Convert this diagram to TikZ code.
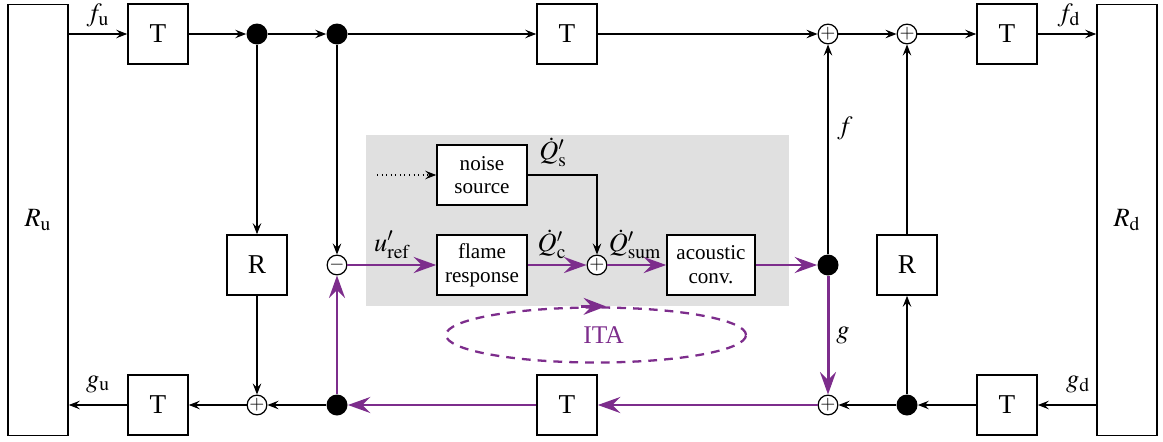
\documentclass[tikz,border=0pt]{standalone}
\usepackage{mathptmx}
\usepackage{fontspec}
\setmainfont{Liberation Serif}
\usetikzlibrary{arrows.meta,shapes.geometric}

\definecolor{itapurple}{RGB}{125,45,140}

\tikzset{
    block/.style={draw, line width=0.9pt, fill=white, minimum width=1.2cm,
        minimum height=1.2cm, inner sep=0pt, font=\fontsize{15.5}{17}\selectfont},
    wideblock/.style={block, minimum width=1.8cm, align=center,
        font=\fontsize{12}{13.5}\selectfont},
    tallblock/.style={block, minimum height=8.62cm, font=\fontsize{15}{17}\selectfont},
    sumnode/.style={draw, circle, line width=0.7pt, fill=white, minimum size=0.37cm,
        inner sep=0pt, font=\fontsize{11}{12}\selectfont},
    dotnode/.style={fill, circle, minimum size=0.42cm, inner sep=0pt},
    lbl/.style={inner sep=0pt},
    sig/.style={line width=0.6pt, -{Stealth[length=2.2mm,width=1.7mm,inset=0.8mm]}},
    itaflow/.style={draw=itapurple, line width=1.7pt,
        -{Stealth[length=4.5mm,width=3.2mm,inset=1.6mm]}},
}

\begin{document}
\begin{tikzpicture}[font=\fontsize{15}{17}\selectfont]
    \useasboundingbox (0,0) rectangle (23.26,8.82);

    % gray area of the flame model
    \fill[black!12] (7.32,2.70) rectangle (15.78,6.12);

    % reflections
    \node[tallblock] (Ru) at (0.76,4.42) {$R_\mathrm{u}$};
    \node[tallblock] (Rd) at (22.54,4.42) {$R_\mathrm{d}$};

    % upper row
    \node[block] (Tfu) at (3.16,8.14) {T};
    \node[dotnode] (dfa) at (5.14,8.14) {};
    \node[dotnode] (dfb) at (6.74,8.14) {};
    \node[block] (Tfm) at (11.34,8.14) {T};
    \node[sumnode] (sfa) at (16.56,8.14) {$+$};
    \node[sumnode] (sfb) at (18.14,8.14) {$+$};
    \node[block] (Tfd) at (20.14,8.14) {T};

    % middle row
    \node[block] (Rl) at (5.14,3.52) {R};
    \node[sumnode] (minus) at (6.74,3.52) {$-$};
    \node[wideblock] (noise) at (9.64,5.32) {noise\\source};
    \node[wideblock] (flame) at (9.64,3.52) {flame\\response};
    \node[sumnode] (sq) at (11.94,3.52) {$+$};
    \node[wideblock, minimum width=1.76cm] (conv) at (14.22,3.52) {acoustic\\conv.};
    \node[dotnode] (dm) at (16.56,3.52) {};
    \node[block] (Rr) at (18.14,3.52) {R};

    % lower row
    \node[block] (Tgu) at (3.16,0.72) {T};
    \node[sumnode] (sgb) at (5.14,0.72) {$+$};
    \node[dotnode] (dgb) at (6.74,0.72) {};
    \node[block] (Tgm) at (11.34,0.72) {T};
    \node[sumnode] (sga) at (16.56,0.72) {$+$};
    \node[dotnode] (dga) at (18.14,0.72) {};
    \node[block] (Tgd) at (20.14,0.72) {T};

    \coordinate (nin) at (7.54,5.32);

    % waves f
    \draw[sig] (Ru.east |- Tfu) -- (Tfu);
    \draw[sig] (Tfu) -- (dfa);
    \draw[sig] (dfa) -- (dfb);
    \draw[sig] (dfb) -- (Tfm);
    \draw[sig] (Tfm) -- (sfa);
    \draw[sig] (sfa) -- (sfb);
    \draw[sig] (sfb) -- (Tfd);
    \draw[sig] (Tfd) -- (Rd.west |- Tfd);

    % waves g
    \draw[sig] (Rd.west |- Tgd) -- (Tgd);
    \draw[sig] (Tgd) -- (dga);
    \draw[sig] (dga) -- (sga);
    \draw[sig] (dgb) -- (sgb);
    \draw[sig] (sgb) -- (Tgu);
    \draw[sig] (Tgu) -- (Ru.east |- Tgu);

    % vertical branches
    \draw[sig] (dfa) -- (Rl);
    \draw[sig] (Rl) -- (sgb);
    \draw[sig] (dfb) -- (minus);
    \draw[sig] (dm) -- (sfa);
    \draw[sig] (dga) -- (Rr);
    \draw[sig] (Rr) -- (sfb);

    % noise
    \draw[sig, dotted] (nin) -- (noise);
    \draw[sig] (noise.east) -| (sq);

    % ITA loop
    \draw[itaflow] (minus) -- (flame);
    \draw[itaflow] (flame) -- (sq);
    \draw[itaflow] (sq) -- (conv);
    \draw[itaflow] (conv) -- (dm);
    \draw[itaflow] (dm) -- (sga);
    \draw[itaflow] (sga) -- (Tgm);
    \draw[itaflow] (Tgm) -- (dgb);
    \draw[itaflow] (dgb) -- (minus);

    \node[ellipse, draw=itapurple, dashed, line width=1.3pt,
        dash pattern=on 5pt off 4pt, minimum width=6cm, minimum height=1.1cm,
        text=itapurple, font=\fontsize{14.5}{16}\selectfont] (ita) at (11.92,2.12) {\hspace{3mm}ITA};
    \draw[itapurple, line width=1.3pt, -{Stealth[length=4.5mm,width=3.4mm,inset=1.6mm]}]
        ([xshift=-3mm]ita.north) -- ([xshift=2mm]ita.north);

    % labels
    \node[lbl] (lfu) at (1.96,8.52) {$f_\mathrm{u}$};
    \node[lbl] (lfd) at (21.38,8.52) {$f_\mathrm{d}$};
    \node[lbl] (lgu) at (1.96,1.14) {$g_\mathrm{u}$};
    \node[lbl] (lgd) at (21.56,1.14) {$g_\mathrm{d}$};
    \node[lbl] (lf) at (16.9,6.26) {$f$};
    \node[lbl] (lg) at (16.86,2.12) {$g$};
    \node[lbl] (lu) at (7.84,3.92) {$u'_\mathrm{ref}$};
    \node[lbl] (lqs) at (11.06,5.78) {$\dot{Q}'_\mathrm{s}$};
    \node[lbl] (lqc) at (11.04,3.94) {$\dot{Q}'_\mathrm{c}$};
    \node[lbl] (lqsum) at (12.7,3.94) {$\dot{Q}'_\mathrm{sum}$};
\end{tikzpicture}
\end{document}
